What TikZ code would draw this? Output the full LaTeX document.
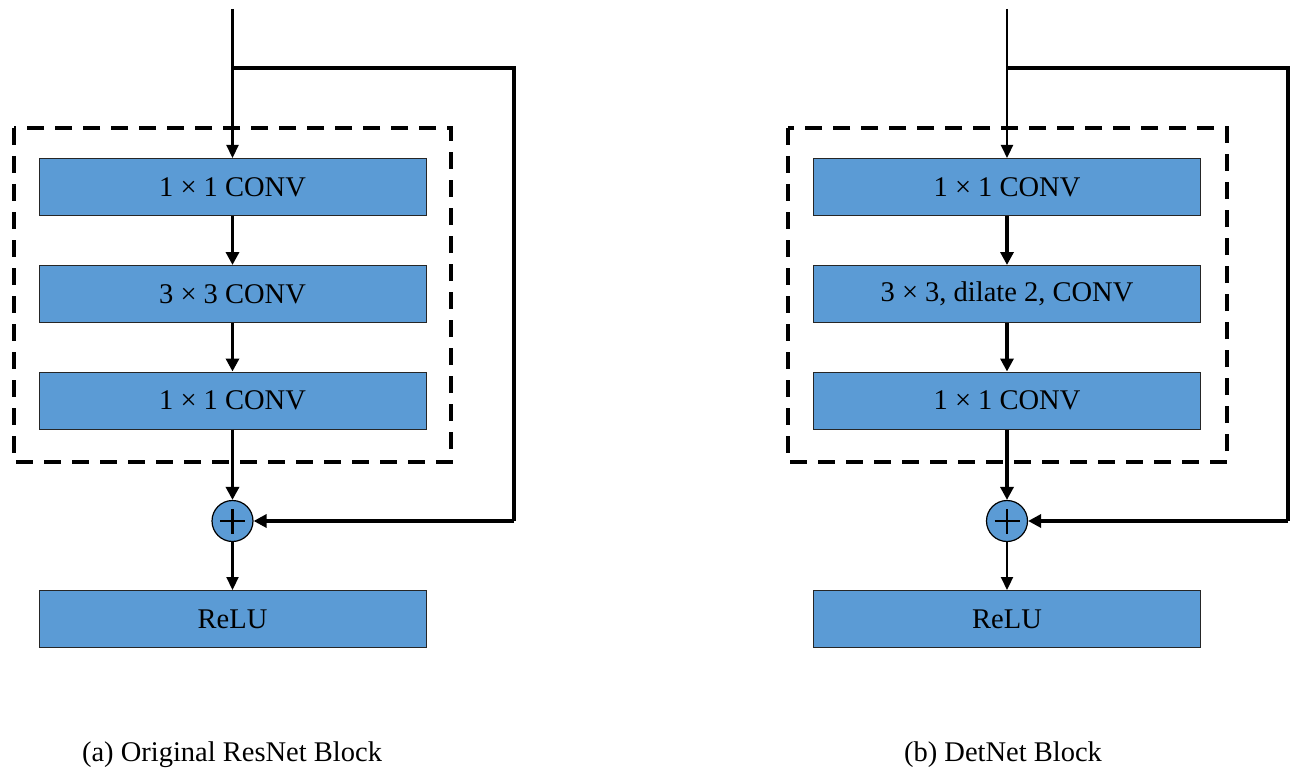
\documentclass[tikz,border=0pt]{standalone}
\usepackage{fontspec}
\setmainfont{Liberation Serif}
\usetikzlibrary{arrows.meta}
\definecolor{boxblue}{RGB}{91,155,213}
\begin{document}
\begin{tikzpicture}[x=1pt,y=-1pt,
  blk/.style={draw=black!85, line width=1pt, fill=boxblue, minimum width=387pt, minimum height=57pt, inner sep=0pt, font=\fontsize{28.5}{32}\selectfont},
  sumnode/.style={circle, draw=black, line width=1.2pt, fill=boxblue, minimum size=41pt, inner sep=0pt},
  frame/.style={draw=black, line width=3.6pt, dash pattern=on 17pt off 11pt},
  thickarr/.style={line width=3.4pt, -{Triangle[width=13pt,length=13pt]}},
  thinarr/.style={line width=2.2pt, -{Triangle[width=12pt,length=13pt]}},
  skipline/.style={line width=3.4pt},
  plussign/.style={line width=2.4pt},
  captext/.style={font=\fontsize{28.5}{32}\selectfont, inner sep=0pt}]
\useasboundingbox (0,0) rectangle (1295,770);

% ---------- (a) Original ResNet Block ----------
\draw[frame] (14,128) rectangle (451,462);
\node[blk] (a1) at (232.5,187) {1 × 1 CONV};
\node[blk] (a2) at (232.5,294) {3 × 3 CONV};
\node[blk] (a3) at (232.5,400.5) {1 × 1 CONV};
\node[sumnode] (as) at (232.5,521) {};
\draw[plussign] ([xshift=-12.5pt]as.center) -- ([xshift=12.5pt]as.center)
                ([yshift=-12.5pt]as.center) -- ([yshift=12.5pt]as.center);
\node[blk] (ar) at (232.5,619) {ReLU};
\coordinate (ain) at (232.5,9);
\coordinate (asplit) at (232.5,68);
\coordinate (askipA) at (514,68);
\coordinate (askipB) at (514,521);
\draw[thinarr] (ain) -- (a1.north);
\draw[thickarr] (a1.south) -- (a2.north);
\draw[thickarr] (a2.south) -- (a3.north);
\draw[thickarr] (a3.south) -- (as.north);
\draw[thinarr] (as.south) -- (ar.north);
\draw[skipline, line join=miter] (asplit) -- (askipA) -- (askipB);
\draw[thickarr] (askipB) -- (as.east);
\node[captext] (acap) at (232,755) {(a) Original ResNet Block};

% ---------- (b) DetNet Block ----------
\draw[frame] (788,128) rectangle (1227,462);
\node[blk] (b1) at (1007,187) {1 × 1 CONV};
\node[blk] (b2) at (1007,294) {3 × 3, dilate 2, CONV};
\node[blk] (b3) at (1007,400.5) {1 × 1 CONV};
\node[sumnode] (bs) at (1007,521) {};
\draw[plussign] ([xshift=-12.5pt]bs.center) -- ([xshift=12.5pt]bs.center)
                ([yshift=-12.5pt]bs.center) -- ([yshift=12.5pt]bs.center);
\node[blk] (br) at (1007,619) {ReLU};
\coordinate (bin) at (1007,9);
\coordinate (bsplit) at (1007,68);
\coordinate (bskipA) at (1288,68);
\coordinate (bskipB) at (1288,521);
\draw[thinarr] (bin) -- (b1.north);
\draw[thickarr] (b1.south) -- (b2.north);
\draw[thickarr] (b2.south) -- (b3.north);
\draw[thickarr] (b3.south) -- (bs.north);
\draw[thinarr] (bs.south) -- (br.north);
\draw[skipline, line join=miter] (bsplit) -- (bskipA) -- (bskipB);
\draw[thickarr] (bskipB) -- (bs.east);
\node[captext] (bcap) at (1003,755) {(b) DetNet Block};
\end{tikzpicture}
\end{document}
